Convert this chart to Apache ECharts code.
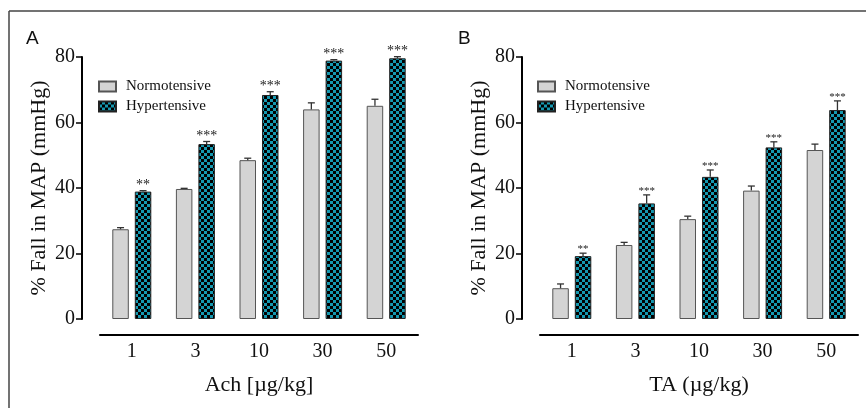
<!DOCTYPE html>
<html>
  <head>
    <meta charset="UTF-8" />
    <script src="https://cdn.jsdelivr.net/npm/echarts/dist/echarts.min.js"></script>
    <title>MAP fall</title>
    <style>
      html, body { margin: 0; padding: 0; background: #fff; }
      #main { width: 866px; height: 408px; }
    </style>
  </head>
  <body>
    <div id="main"></div>
    <script>
      // doses on the x axis (both panels)
      const doses = ['1', '3', '10', '30', '50'];
      const yTicks = [0, 20, 40, 60, 80];

      // panel A - Ach
      const achNormo = [27.4, 39.7, 48.5, 64.0, 65.1];
      const achNormoErr = [0.5, 0.2, 0.6, 2.0, 2.0];
      const achHyper = [38.9, 53.4, 68.4, 78.9, 79.6];
      const achHyperErr = [0.3, 0.8, 1.0, 0.3, 0.5];
      const achStars = ['**', '***', '***', '***', '***'];

      // panel B - TA
      const taNormo = [9.4, 22.6, 30.5, 39.2, 51.6];
      const taNormoErr = [1.3, 0.8, 0.9, 1.4, 1.8];
      const taHyper = [19.2, 35.3, 43.4, 52.4, 63.8];
      const taHyperErr = [0.9, 2.6, 2.1, 1.7, 2.8];
      const taStars = ['**', '***', '***', '***', '***'];

      const serif = 'Liberation Serif';
      const BAR_W = 16.5;
      const GAP = 6;

      // checkered fill for hypertensive bars
      const pc = document.createElement('canvas');
      pc.width = 6; pc.height = 6;
      const pctx = pc.getContext('2d');
      pctx.fillStyle = '#1598b0';
      pctx.fillRect(0, 0, 6, 6);
      pctx.fillStyle = '#000';
      pctx.fillRect(0, 0, 3, 3);
      pctx.fillRect(3, 3, 3, 3);
      const checker = { image: pc, repeat: 'repeat' };

      function errBars(vals, errs, stars, side, starSize, starLift) {
        return function (params, api) {
          const i = params.dataIndex;
          const base = api.coord([i, vals[i]]);
          const top = api.coord([i, vals[i] + errs[i]]);
          const x = base[0] + side * (BAR_W + GAP) / 2;
          const kids = [
            { type: 'line', shape: { x1: x, y1: base[1], x2: x, y2: top[1] }, style: { stroke: '#333', lineWidth: 1.3 } },
            { type: 'line', shape: { x1: x - 3.5, y1: top[1], x2: x + 3.5, y2: top[1] }, style: { stroke: '#333', lineWidth: 1.3 } }
          ];
          if (stars) {
            kids.push({
              type: 'text',
              style: {
                x: x, y: top[1] - starLift, text: stars[i],
                font: starSize + 'px "' + serif + '"',
                fill: '#222', align: 'center', verticalAlign: 'middle'
              }
            });
          }
          return { type: 'group', children: kids };
        };
      }

      function yAx(gi) {
        return {
          type: 'value', gridIndex: gi, min: 0, max: 80, interval: 20, offset: 18,
          name: '% Fall in MAP (mmHg)', nameLocation: 'middle', nameGap: 32,
          nameTextStyle: { fontFamily: serif, fontSize: 22, color: '#111' },
          axisLine: { show: true, lineStyle: { color: '#000', width: 2 } },
          axisTick: { show: true, length: 6, lineStyle: { color: '#000', width: 1.5 } },
          axisLabel: { fontFamily: serif, fontSize: 20, color: '#111', margin: 7 },
          splitLine: { show: false }
        };
      }

      function xAx(gi, title) {
        return {
          type: 'category', gridIndex: gi, data: doses, offset: 16,
          name: title, nameLocation: 'middle', nameGap: 39,
          nameTextStyle: { fontFamily: serif, fontSize: 22, color: '#111' },
          axisLine: { onZero: false, lineStyle: { color: '#000', width: 2 } },
          axisTick: { alignWithLabel: true, length: 6, lineStyle: { color: '#000', width: 1.5 } },
          axisLabel: { fontFamily: serif, fontSize: 20, color: '#111', margin: 7 }
        };
      }

      function legend(left) {
        return {
          orient: 'vertical', left: left, top: 74, icon: 'rect',
          itemWidth: 17, itemHeight: 10, itemGap: 5,
          data: ['Normotensive', 'Hypertensive'],
          textStyle: { fontFamily: serif, fontSize: 15, color: '#111', padding: [0, 0, 0, 5] }
        };
      }

      const grayStyle = { color: '#d4d4d4', borderColor: '#555', borderWidth: 1 };
      const hyperStyle = { color: checker, borderColor: '#222', borderWidth: 1 };

      const chart = echarts.init(document.getElementById('main'));
      chart.setOption({
        animation: false,
        grid: [
          { left: 100, top: 57, width: 318, height: 262 },
          { left: 540, top: 57, width: 318, height: 262 }
        ],
        xAxis: [xAx(0, 'Ach [µg/kg]'), xAx(1, 'TA (µg/kg)')],
        yAxis: [yAx(0), yAx(1)],
        legend: [legend(93), legend(532)],
        graphic: [
          { type: 'line', shape: { x1: 9, y1: 11, x2: 866, y2: 11 }, style: { stroke: '#444', lineWidth: 1.5 } },
          { type: 'line', shape: { x1: 9, y1: 11, x2: 9, y2: 408 }, style: { stroke: '#444', lineWidth: 1.5 } },
          { type: 'text', left: 26, top: 29, style: { text: 'A', font: '19px "Liberation Sans"', fill: '#111' } },
          { type: 'text', left: 458, top: 29, style: { text: 'B', font: '19px "Liberation Sans"', fill: '#111' } }
        ],
        series: [
          { name: 'Normotensive', type: 'bar', xAxisIndex: 0, yAxisIndex: 0, data: achNormo, barWidth: BAR_W, barGap: (GAP / BAR_W * 100) + '%', itemStyle: grayStyle },
          { name: 'Hypertensive', type: 'bar', xAxisIndex: 0, yAxisIndex: 0, data: achHyper, barWidth: BAR_W, itemStyle: hyperStyle },
          { name: 'Normotensive', type: 'bar', xAxisIndex: 1, yAxisIndex: 1, data: taNormo, barWidth: BAR_W, barGap: (GAP / BAR_W * 100) + '%', itemStyle: grayStyle },
          { name: 'Hypertensive', type: 'bar', xAxisIndex: 1, yAxisIndex: 1, data: taHyper, barWidth: BAR_W, itemStyle: hyperStyle },
          { type: 'custom', xAxisIndex: 0, yAxisIndex: 0, z: 5, data: achNormo, renderItem: errBars(achNormo, achNormoErr, null, -1) },
          { type: 'custom', xAxisIndex: 0, yAxisIndex: 0, z: 5, data: achHyper, renderItem: errBars(achHyper, achHyperErr, achStars, 1, 14, 5) },
          { type: 'custom', xAxisIndex: 1, yAxisIndex: 1, z: 5, data: taNormo, renderItem: errBars(taNormo, taNormoErr, null, -1) },
          { type: 'custom', xAxisIndex: 1, yAxisIndex: 1, z: 5, data: taHyper, renderItem: errBars(taHyper, taHyperErr, taStars, 1, 11, 4) }
        ]
      });
    </script>
  </body>
</html>
